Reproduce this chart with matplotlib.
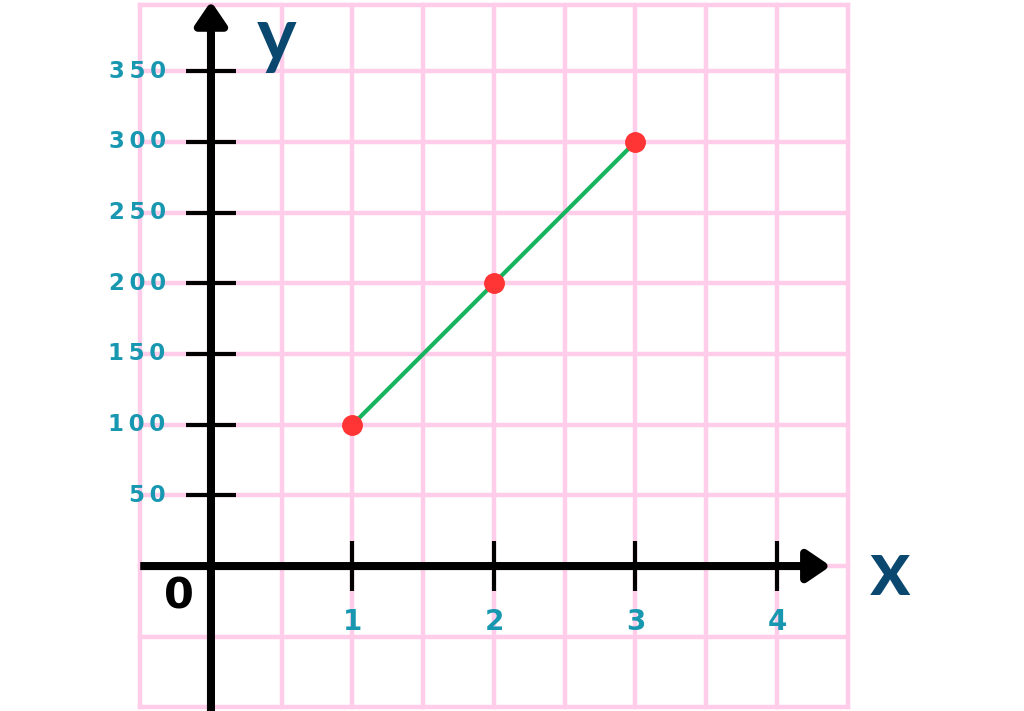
import matplotlib
matplotlib.use("Agg")
import matplotlib.pyplot as plt
import numpy as np

# data
x_vals = [1, 2, 3]
y_vals = [100, 200, 300]
x_ticks = [1, 2, 3, 4]
x_tick_labels = ["1", "2", "3", "4"]
y_ticks = [50, 100, 150, 200, 250, 300, 350]
y_tick_labels = ["50", "100", "150", "200", "250", "300", "350"]

PINK = "#ffcdea"
TEAL = "#1797b0"
NAVY = "#0b4870"
GREEN = "#16b45e"
RED = "#ff3434"

fig = plt.figure(figsize=(10.24, 7.11), dpi=100)
ax = fig.add_axes([0, 0, 1, 1])
ax.set_xlim(-1.491, 5.746)
ax.set_ylim(-102.5, 400.3)
ax.axis("off")

gx0, gx1 = -0.5, 4.5
gy0, gy1 = -100, 397
# grid
for gx in np.arange(gx0, gx1 + 0.01, 0.5):
    ax.plot([gx, gx], [gy0, gy1], color=PINK, lw=3.2, solid_capstyle="projecting", zorder=1)
for gy in list(np.arange(-100, 351, 50)) + [gy1]:
    ax.plot([gx0, gx1], [gy, gy], color=PINK, lw=3.2, solid_capstyle="projecting", zorder=1)

# axes with arrows
arrow_style = "-|>,head_length=1.4,head_width=0.95"
ax.annotate("", xy=(0, 399.5), xytext=(0, -103), annotation_clip=False,
            arrowprops=dict(arrowstyle=arrow_style,
                            lw=5.8, color="black", shrinkA=0, shrinkB=0,
                            joinstyle="round", capstyle="butt"), zorder=5)
ax.annotate("", xy=(4.38, 0), xytext=(-0.5, 0), annotation_clip=False,
            arrowprops=dict(arrowstyle=arrow_style,
                            lw=5.8, color="black", shrinkA=0, shrinkB=0,
                            joinstyle="round", capstyle="butt"), zorder=5)

# ticks
ax.plot(x_ticks, [0] * len(x_ticks), ls="none", marker="|", ms=36, mew=3, color="black", zorder=6)
ax.plot([0] * len(y_ticks), y_ticks, ls="none", marker="_", ms=36, mew=3, color="black", zorder=6)

# tick labels
for t, lab in zip(y_ticks, y_tick_labels):
    ax.text(-0.32, t, "\u2009".join(lab), ha="right", va="center", color=TEAL,
            fontsize=16.5, fontweight="bold", family=["DejaVu Sans"], zorder=7)
for t, lab in zip(x_ticks, x_tick_labels):
    ax.text(t, -39.5, lab, ha="center", va="center", color=TEAL,
            fontsize=20, fontweight="bold", family=["DejaVu Sans"], zorder=7)

ax.text(-0.226, -21.5, "0", ha="center", va="center", color="black",
        fontsize=31, fontweight="bold", family=["DejaVu Sans"], zorder=7)
ax.text(0.466, 358, "y", ha="center", va="baseline", color=NAVY,
        fontsize=54, fontweight="bold", family=["Lato", "DejaVu Sans"], zorder=7)
ax.text(4.80, -20.5, "x", ha="center", va="baseline", color=NAVY,
        fontsize=56, fontweight="bold", family=["Lato", "DejaVu Sans"], zorder=7)

# data line and points
ax.plot(x_vals, y_vals, color=GREEN, lw=3, zorder=8)
ax.plot(x_vals, y_vals, ls="none", marker="o", ms=14, color=RED, mec=RED, zorder=9)

fig.savefig("out.png", dpi=100)
